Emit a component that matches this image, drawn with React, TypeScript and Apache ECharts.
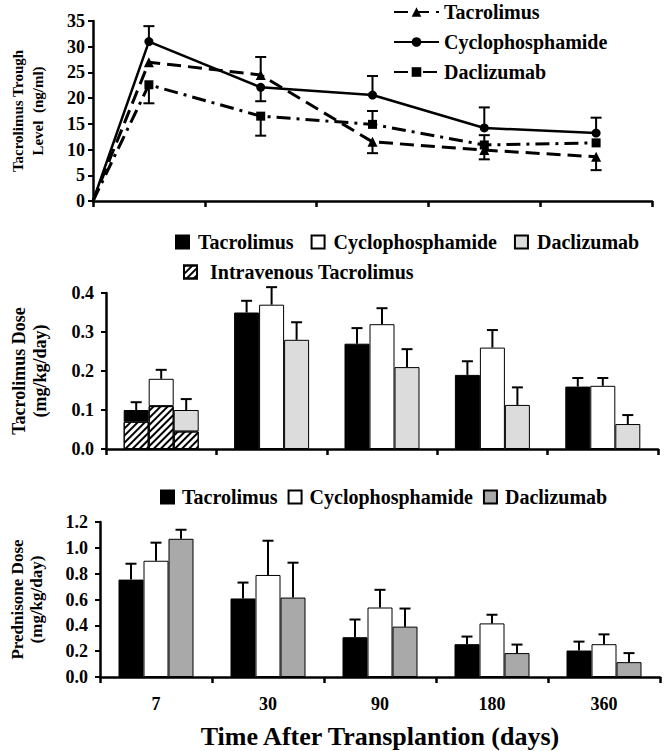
import React, { useEffect, useRef } from "react";
import * as echarts from "echarts";

// ---- data ----
const categories = ["7", "30", "90", "180", "360"];

// Top panel: tacrolimus trough level (ng/ml)
const troughTac = [27, 24.5, 11.5, 9.9, 8.6];
const troughCyc = [31, 22.1, 20.6, 14.2, 13.2];
const troughDac = [22.6, 16.5, 14.9, 10.9, 11.3];
// error bar end values (null = none visible)
const troughTacErr = [null, 28, 9.3, 8.1, 6];
const troughCycErr = [34, 19.4, 24.3, 18.2, 16.2];
const troughDacErr = [19, 12.7, 17.5, 12.8, null];

// Middle panel: tacrolimus dose (mg/kg/day)
const doseTac = [0.1, 0.35, 0.27, 0.19, 0.16];
const doseCyc = [0.18, 0.37, 0.32, 0.26, 0.162];
const doseDac = [0.1, 0.28, 0.21, 0.113, 0.064];
const doseTacErr = [0.12, 0.38, 0.31, 0.225, 0.182];
const doseCycErr = [0.203, 0.415, 0.361, 0.305, 0.182];
const doseDacErr = [0.128, 0.325, 0.256, 0.158, 0.087];
const ivTac = [0.07, null, null, null, null];
const ivCyc = [0.11, null, null, null, null];
const ivDac = [0.045, null, null, null, null];

// Bottom panel: prednisone dose (mg/kg/day)
const predTac = [0.754, 0.608, 0.308, 0.254, 0.205];
const predCyc = [0.9, 0.79, 0.538, 0.415, 0.254];
const predDac = [1.07, 0.615, 0.39, 0.185, 0.115];
const predTacErr = [0.877, 0.731, 0.445, 0.313, 0.274];
const predCycErr = [1.04, 1.055, 0.675, 0.482, 0.33];
const predDacErr = [1.14, 0.885, 0.53, 0.251, 0.185];

const FONT = "'Liberation Serif', 'DejaVu Serif', serif";
const BAR_W = 25;

function errRender(offsetIdx: number, capW: number) {
  return (params: any, api: any) => {
    const x = api.value(0);
    const v = api.value(1);
    const e = api.value(2);
    const p0 = api.coord([x, v]);
    const p1 = api.coord([x, e]);
    const cx = p0[0] + offsetIdx * BAR_W;
    return {
      type: "group",
      children: [
        {
          type: "line",
          shape: { x1: cx, y1: p0[1], x2: cx, y2: p1[1] },
          style: { stroke: "#000", lineWidth: 2 },
        },
        {
          type: "line",
          shape: { x1: cx - capW / 2, y1: p1[1], x2: cx + capW / 2, y2: p1[1] },
          style: { stroke: "#000", lineWidth: 2 },
        },
      ],
    };
  };
}

function lineData(vals: number[]) {
  return [
    { value: [0, 0], symbol: "none" },
    ...vals.map((v, i) => [i + 0.5, v]),
  ];
}

function lineErrData(vals: number[], errs: (number | null)[]) {
  const out: any[] = [];
  vals.forEach((v, i) => {
    if (errs[i] != null) out.push([i + 0.5, v, errs[i]]);
  });
  return out;
}

function barErrData(vals: number[], errs: number[]) {
  return vals.map((v, i) => [i, v, errs[i]]);
}

function restOf(total: number[], iv: (number | null)[]) {
  return total.map((t, i) => (iv[i] != null ? +(t - (iv[i] as number)).toFixed(4) : t));
}

const hatch = {
  symbol: "rect",
  symbolSize: 1,
  dashArrayX: [1, 0],
  dashArrayY: [2, 2.5],
  rotation: -Math.PI / 4,
  color: "#000",
  backgroundColor: "#fff",
};

export default function App() {
  const ref = useRef<HTMLDivElement>(null);
  useEffect(() => {
    if (!ref.current) return;
    const chart = echarts.init(ref.current, undefined, { renderer: "svg" });

    const axisLine = { lineStyle: { color: "#000", width: 2.5 } };
    const yLabel = (dec: number, margin: number) => ({
      color: "#000",
      fontFamily: FONT,
      fontWeight: "bold",
      fontSize: 18,
      margin,
      formatter: (v: number) => (dec ? v.toFixed(dec) : String(v)),
    });
    const nameStyle = (size: number, lh: number) => ({
      color: "#000",
      fontFamily: FONT,
      fontWeight: "bold",
      fontSize: size,
      lineHeight: lh,
    });
    const legendText = {
      color: "#000",
      fontFamily: FONT,
      fontWeight: "bold",
      fontSize: 20,
    };
    const fmt = (n: string) => n.slice(2);

    const option: any = {
      animation: false,
      backgroundColor: "#fff",
      grid: [
        { left: 91, top: 21, width: 561, height: 180 },
        { left: 96, top: 293, width: 562, height: 156 },
        { left: 95, top: 522, width: 565, height: 155 },
      ],
      legend: [
        {
          data: ["t:Tacrolimus", "t:Cyclophosphamide", "t:Daclizumab"],
          orient: "vertical",
          left: 393,
          top: 2,
          padding: 0,
          itemWidth: 45,
          itemHeight: 12,
          itemGap: 10,
          selectedMode: false,
          formatter: fmt,
          textStyle: legendText,
        },
        {
          data: ["m:Tacrolimus", "m:Cyclophosphamide", "m:Daclizumab"],
          left: 175,
          top: 232,
          padding: 0,
          icon: "rect",
          itemWidth: 13,
          itemHeight: 13,
          itemGap: 17,
          selectedMode: false,
          formatter: fmt,
          textStyle: { ...legendText, padding: [0, 0, 0, 4] },
        },
        {
          data: ["m:Intravenous Tacrolimus"],
          left: 183,
          top: 262,
          padding: 0,
          icon: "rect",
          itemWidth: 13,
          itemHeight: 13,
          selectedMode: false,
          formatter: fmt,
          textStyle: { ...legendText, padding: [0, 0, 0, 8] },
        },
        {
          data: ["b:Tacrolimus", "b:Cyclophosphamide", "b:Daclizumab"],
          left: 160,
          top: 487,
          padding: 0,
          icon: "rect",
          itemWidth: 13,
          itemHeight: 13,
          itemGap: 10,
          selectedMode: false,
          formatter: fmt,
          textStyle: { ...legendText, padding: [0, 0, 0, 3] },
        },
      ],
      xAxis: [
        {
          gridIndex: 0,
          type: "value",
          min: 0,
          max: 5,
          interval: 1,
          axisLine,
          axisTick: { show: true, length: 6, lineStyle: { color: "#000", width: 2.5 } },
          axisLabel: { show: false },
          splitLine: { show: false },
        },
        {
          gridIndex: 1,
          type: "category",
          data: categories,
          axisLine,
          axisTick: { show: true, length: 6, lineStyle: { color: "#000", width: 2.5 } },
          axisLabel: { show: false },
        },
        {
          gridIndex: 2,
          type: "category",
          data: categories,
          axisLine,
          axisTick: { show: true, length: 6, lineStyle: { color: "#000", width: 2.5 } },
          axisLabel: {
            color: "#000",
            fontFamily: FONT,
            fontWeight: "bold",
            fontSize: 18,
            margin: 18,
          },
          name: "Time After Transplantion (days)",
          nameLocation: "middle",
          nameGap: 46,
          nameTextStyle: { color: "#000", fontFamily: FONT, fontWeight: "bold", fontSize: 26 },
        },
      ],
      yAxis: [
        {
          gridIndex: 0,
          type: "value",
          min: 0,
          max: 35,
          interval: 5,
          axisLine: { show: true, ...axisLine },
          axisTick: { show: true, length: 5, lineStyle: { color: "#000", width: 2 } },
          axisLabel: yLabel(0, 8),
          splitLine: { show: false },
          name: "Tacrolimus Trough\nLevel  (ng/ml)",
          nameLocation: "middle",
          nameRotate: 90,
          nameGap: 45,
          nameTextStyle: nameStyle(15, 20),
        },
        {
          gridIndex: 1,
          type: "value",
          min: 0,
          max: 0.4,
          interval: 0.1,
          axisLine: { show: true, ...axisLine },
          axisTick: { show: true, length: 5, lineStyle: { color: "#000", width: 2 } },
          axisLabel: yLabel(1, 12),
          splitLine: { show: false },
          name: "Tacrolimus Dose\n(mg/kg/day)",
          nameLocation: "middle",
          nameRotate: 90,
          nameGap: 56,
          nameTextStyle: nameStyle(18, 21),
        },
        {
          gridIndex: 2,
          type: "value",
          min: 0,
          max: 1.2,
          interval: 0.2,
          axisLine: { show: true, ...axisLine },
          axisTick: { show: true, length: 5, lineStyle: { color: "#000", width: 2 } },
          axisLabel: yLabel(1, 12),
          splitLine: { show: false },
          name: "Prednisone Dose\n(mg/kg/day)",
          nameLocation: "middle",
          nameRotate: 90,
          nameGap: 54,
          nameTextStyle: nameStyle(17, 19),
        },
      ],
      series: [
        // ---- top: error bars ----
        ...[
          [troughTac, troughTacErr],
          [troughCyc, troughCycErr],
          [troughDac, troughDacErr],
        ].map(([v, e]) => ({
          type: "custom",
          xAxisIndex: 0,
          yAxisIndex: 0,
          renderItem: errRender(0, 11),
          encode: { x: 0, y: [1, 2] },
          data: lineErrData(v as number[], e as (number | null)[]),
          silent: true,
          z: 1,
        })),
        // ---- top: lines ----
        {
          name: "t:Tacrolimus",
          type: "line",
          xAxisIndex: 0,
          yAxisIndex: 0,
          data: lineData(troughTac),
          symbol: "triangle",
          symbolSize: 10,
          itemStyle: { color: "#000" },
          lineStyle: { color: "#000", width: 3, type: [14, 7] },
          z: 3,
        },
        {
          name: "t:Cyclophosphamide",
          type: "line",
          xAxisIndex: 0,
          yAxisIndex: 0,
          data: lineData(troughCyc),
          symbol: "circle",
          symbolSize: 9,
          itemStyle: { color: "#000" },
          lineStyle: { color: "#000", width: 2.5, type: "solid" },
          z: 3,
        },
        {
          name: "t:Daclizumab",
          type: "line",
          xAxisIndex: 0,
          yAxisIndex: 0,
          data: lineData(troughDac),
          symbol: "rect",
          symbolSize: 9,
          itemStyle: { color: "#000" },
          lineStyle: { color: "#000", width: 3, type: [14, 6, 3, 6] },
          z: 3,
        },
        // ---- middle: IV stacked portions ----
        {
          name: "m:Intravenous Tacrolimus",
          type: "bar",
          xAxisIndex: 1,
          yAxisIndex: 1,
          stack: "tac",
          barWidth: BAR_W,
          barGap: "0%",
          data: ivTac,
          itemStyle: { color: "#fff", borderColor: "#000", borderWidth: 1, decal: hatch },
        },
        {
          name: "m:Intravenous Tacrolimus",
          type: "bar",
          xAxisIndex: 1,
          yAxisIndex: 1,
          stack: "cyc",
          barWidth: BAR_W,
          barGap: "0%",
          data: ivCyc,
          itemStyle: { color: "#fff", borderColor: "#000", borderWidth: 1, decal: hatch },
        },
        {
          name: "m:Intravenous Tacrolimus",
          type: "bar",
          xAxisIndex: 1,
          yAxisIndex: 1,
          stack: "dac",
          barWidth: BAR_W,
          barGap: "0%",
          data: ivDac,
          itemStyle: { color: "#fff", borderColor: "#000", borderWidth: 1, decal: hatch },
        },
        {
          name: "m:Tacrolimus",
          type: "bar",
          xAxisIndex: 1,
          yAxisIndex: 1,
          stack: "tac",
          barWidth: BAR_W,
          barGap: "0%",
          data: restOf(doseTac, ivTac),
          itemStyle: { color: "#000", borderColor: "#000", borderWidth: 1 },
        },
        {
          name: "m:Cyclophosphamide",
          type: "bar",
          xAxisIndex: 1,
          yAxisIndex: 1,
          stack: "cyc",
          barWidth: BAR_W,
          barGap: "0%",
          data: restOf(doseCyc, ivCyc),
          itemStyle: { color: "#fff", borderColor: "#000", borderWidth: 1 },
        },
        {
          name: "m:Daclizumab",
          type: "bar",
          xAxisIndex: 1,
          yAxisIndex: 1,
          stack: "dac",
          barWidth: BAR_W,
          barGap: "0%",
          data: restOf(doseDac, ivDac),
          itemStyle: { color: "#dcdcdc", borderColor: "#000", borderWidth: 1 },
        },
        ...[
          [doseTac, doseTacErr, -1],
          [doseCyc, doseCycErr, 0],
          [doseDac, doseDacErr, 1],
        ].map(([v, e, o]) => ({
          type: "custom",
          xAxisIndex: 1,
          yAxisIndex: 1,
          renderItem: errRender(o as number, 11),
          encode: { x: 0, y: [1, 2] },
          data: barErrData(v as number[], e as number[]),
          silent: true,
          clip: false,
        })),
        // ---- bottom ----
        {
          name: "b:Tacrolimus",
          type: "bar",
          xAxisIndex: 2,
          yAxisIndex: 2,
          barWidth: BAR_W,
          barGap: "0%",
          data: predTac,
          itemStyle: { color: "#000", borderColor: "#000", borderWidth: 1 },
        },
        {
          name: "b:Cyclophosphamide",
          type: "bar",
          xAxisIndex: 2,
          yAxisIndex: 2,
          barWidth: BAR_W,
          barGap: "0%",
          data: predCyc,
          itemStyle: { color: "#fff", borderColor: "#000", borderWidth: 1 },
        },
        {
          name: "b:Daclizumab",
          type: "bar",
          xAxisIndex: 2,
          yAxisIndex: 2,
          barWidth: BAR_W,
          barGap: "0%",
          data: predDac,
          itemStyle: { color: "#a9a9a9", borderColor: "#000", borderWidth: 1 },
        },
        ...[
          [predTac, predTacErr, -1],
          [predCyc, predCycErr, 0],
          [predDac, predDacErr, 1],
        ].map(([v, e, o]) => ({
          type: "custom",
          xAxisIndex: 2,
          yAxisIndex: 2,
          renderItem: errRender(o as number, 11),
          encode: { x: 0, y: [1, 2] },
          data: barErrData(v as number[], e as number[]),
          silent: true,
          clip: false,
        })),
      ],
    };
    chart.setOption(option);
    return () => chart.dispose();
  }, []);
  return (
    <div
      ref={ref}
      style={{ position: "fixed", left: 0, top: 0, width: 666, height: 751, background: "#fff" }}
    />
  );
}
